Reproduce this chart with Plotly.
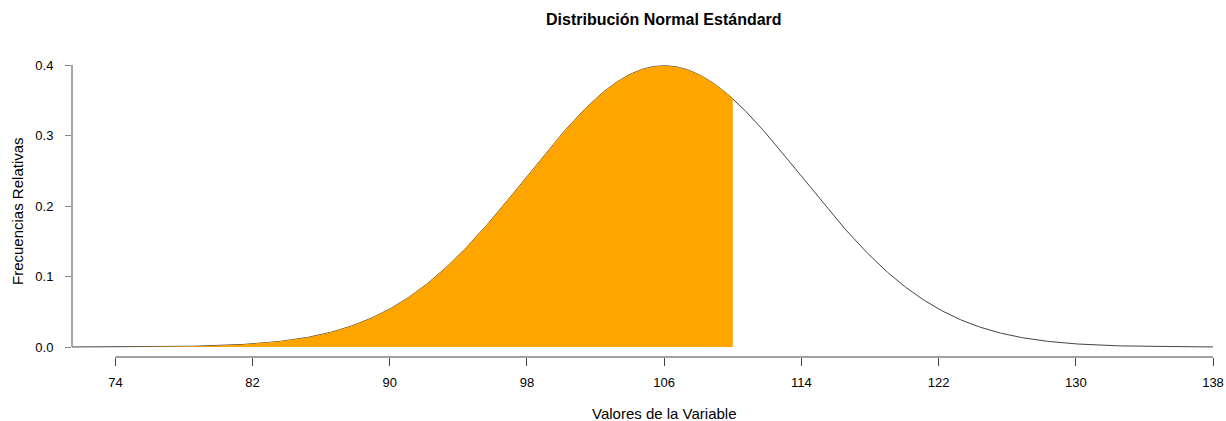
import numpy as np
import plotly.graph_objects as go

# Parameters
mean = 106
sd = 8
cutoff = 110
x_start = 71.47
x_end = 138
tick_vals = [74, 82, 90, 98, 106, 114, 122, 130, 138]
y_ticks = [0.0, 0.1, 0.2, 0.3, 0.4]

x = np.linspace(x_start, x_end, 800)
z = (x - mean) / sd
y = np.exp(-z**2 / 2) / np.sqrt(2 * np.pi)

xf = x[x <= cutoff]
xf = np.append(xf, cutoff)
zf = (xf - mean) / sd
yf = np.exp(-zf**2 / 2) / np.sqrt(2 * np.pi)
xpoly = np.concatenate([[xf[0]], xf, [cutoff]])
ypoly = np.concatenate([[0], yf, [0]])

fig = go.Figure()
fig.add_trace(go.Scatter(x=x, y=y, mode="lines",
                         line=dict(color="#444444", width=1), hoverinfo="skip"))
fig.add_trace(go.Scatter(x=xpoly, y=ypoly, mode="lines", fill="toself",
                         fillcolor="#FFA500", line=dict(width=0, color="#FFA500"),
                         hoverinfo="skip"))

font = "Liberation Sans, Arial, Helvetica, sans-serif"
ybot = -10 / 705.0
xmid = (tick_vals[0] + tick_vals[-1]) / 2

fig.update_layout(
    width=1226, height=421, autosize=False,
    margin=dict(l=72, r=13, t=65, b=64),
    paper_bgcolor="white", plot_bgcolor="white",
    showlegend=False,
    font=dict(family=font, size=13, color="black"),
    xaxis=dict(range=[x_start, x_end], tickvals=tick_vals, ticktext=[str(v) for v in tick_vals],
               showgrid=False, zeroline=False, showline=False, automargin=False,
               ticks="outside", ticklen=8, tickcolor="#444444", tickwidth=1,
               ticklabelstandoff=5, tickfont=dict(size=13)),
    yaxis=dict(range=[ybot, 0.4], tickvals=y_ticks, ticktext=[f"{v:.1f}" for v in y_ticks],
               showgrid=False, zeroline=False, showline=False, automargin=False,
               ticks="outside", ticklen=6, tickcolor="#888888", tickwidth=1,
               ticklabelstandoff=9, tickfont=dict(size=13)),
    shapes=[
        dict(type="line", xref="x", yref="y domain", x0=tick_vals[0], x1=tick_vals[-1], y0=0, y1=0,
             line=dict(color="#444444", width=1)),
        dict(type="line", xref="x domain", yref="y", x0=0, x1=0, y0=0, y1=0.4,
             line=dict(color="#888888", width=1.5)),
    ],
    annotations=[
        dict(text="<b>Distribución Normal Estándard</b>", xref="x", yref="paper",
             x=xmid, y=1, yshift=46, showarrow=False, font=dict(size=16), xanchor="center", yanchor="middle"),
        dict(text="Valores de la Variable", xref="x", yref="paper",
             x=xmid, y=0, yshift=-56, showarrow=False, font=dict(size=15), xanchor="center", yanchor="middle"),
        dict(text="Frecuencias Relativas", xref="paper", yref="paper",
             x=0, xshift=-55, y=0.5, showarrow=False, textangle=-90,
             font=dict(size=15), xanchor="center", yanchor="middle"),
    ],
)

post = (
    "document.documentElement.style.margin='0';"
    "document.documentElement.style.overflow='hidden';"
    "document.body.style.margin='0';"
    "document.body.style.overflow='hidden';"
)
fig.write_html("out.html", config={"displayModeBar": False, "responsive": False},
               post_script=post)
